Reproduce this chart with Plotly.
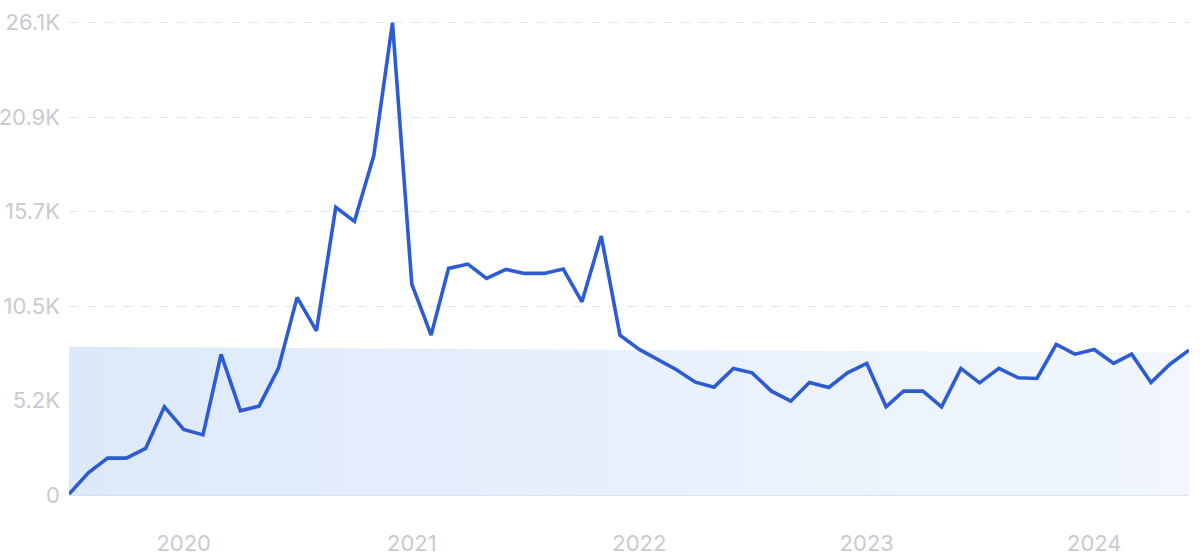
import plotly.graph_objects as go
import pandas as pd

# Monthly values, Jul 2019 .. Jun 2024
months = pd.date_range("2019-07-01", "2024-06-01", freq="MS")
values = [
    60, 1234, 2048, 2048, 2585, 4888, 3636, 3338, 7788, 4666, 4926, 7013,
    10943, 9094, 15924, 15149, 18781, 26140, 11679, 8856, 12548, 12786, 11994, 12492,
    12271, 12271, 12509, 10699, 14336, 8856, 8064, 7511, 6957, 6255, 5978, 7013,
    6770, 5756, 5203, 6238, 5961, 6770, 7290, 4888, 5756, 5756, 4888, 7013,
    6217, 7013, 6494, 6457, 8339, 7804, 8064, 7290, 7804, 6238, 7234, 8026,
]

# y ticks
y_tickvals = [0, 5228, 10456, 15684, 20912, 26140]
y_ticktext = ["0", "5.2K", "10.5K", "15.7K", "20.9K", "26.1K"]

# x ticks
x_tickvals = ["2020-01-01", "2021-01-01", "2022-01-01", "2023-01-01", "2024-01-01"]
x_ticktext = ["2020", "2021", "2022", "2023", "2024"]

# shaded band (start/end of period, top level at each end)
band_x = ["2019-07-01", "2024-06-01"]
band_top = [8208, 7876]

fig = go.Figure()

fig.add_trace(go.Scatter(
    x=[band_x[0], band_x[1], band_x[1], band_x[0], band_x[0]],
    y=[0, 0, band_top[1], band_top[0], 0],
    mode="none",
    fill="toself",
    fillgradient=dict(
        type="horizontal",
        colorscale=[[0, "#dde9fa"], [1, "#f2f7fe"]],
    ),
    hoverinfo="skip",
    showlegend=False,
))

fig.add_trace(go.Scatter(
    x=months, y=values,
    mode="lines",
    line=dict(color="#2c5bd4", width=3.6),
    showlegend=False,
))

font_color = "#c8cad1"
fig.update_layout(
    width=1200, height=559,
    margin=dict(l=69, r=11, t=18, b=62),
    paper_bgcolor="white",
    plot_bgcolor="white",
    font=dict(family="Inter, Roboto, sans-serif", size=22, color=font_color),
    xaxis=dict(
        range=["2019-07-01", "2024-06-01"],
        tickvals=x_tickvals, ticktext=x_ticktext,
        showgrid=False, zeroline=False, showline=False,
        ticks="", ticklabelstandoff=31, automargin=False,
        tickfont=dict(size=22, color=font_color),
    ),
    yaxis=dict(
        range=[-100, 26400],
        tickvals=y_tickvals, ticktext=y_ticktext,
        showgrid=True, gridcolor="#dfe5f0", griddash="dash", gridwidth=1,
        zeroline=True, zerolinecolor="#d3dff2", zerolinewidth=1,
        showline=False, ticks="", ticklabelstandoff=8, automargin=False,
        tickfont=dict(size=22, color=font_color),
    ),
)

fig.write_html(
    "out.html",
    config={"displayModeBar": False},
    post_script="document.body.style.margin='0';",
)
